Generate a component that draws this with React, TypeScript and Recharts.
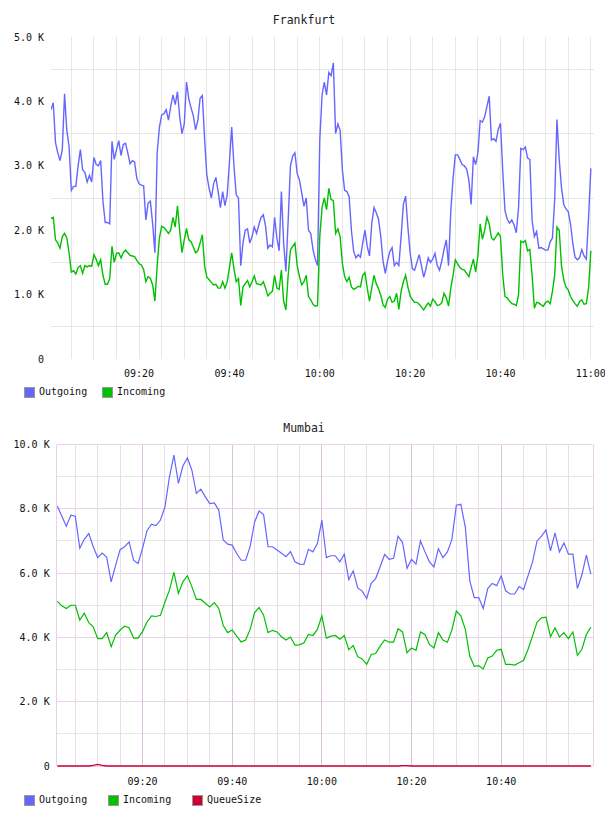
import { LineChart, Line, XAxis, YAxis, ReferenceLine } from "recharts";

const FONT = '"DejaVu Sans Mono", monospace';
const OUT_COLOR = "#6666ff";
const IN_COLOR = "#00c000";
const QUEUE_COLOR = "#cc0033";

// Frankfurt: one sample every 30 s from 09:00:30 (x = minutes after 09:00), values in K
const frankfurtStart = 0.5;
const frankfurtStep = 0.5;
const frankfurtOutgoing = [
  3.87, 3.98, 3.36, 3.2, 3.08, 3.25, 4.12, 3.55, 3.3, 2.62,
  2.68, 2.68, 3.0, 3.25, 2.94, 2.9, 2.75, 2.85, 2.75, 3.13,
  3.02, 3.0, 3.08, 2.45, 2.12, 2.12, 2.1, 3.38, 3.1, 3.25,
  3.39, 3.16, 3.33, 3.35, 3.2, 3.03, 3.08, 3.06, 2.8, 2.72,
  2.7, 2.69, 2.16, 2.42, 2.45, 2.1, 1.65, 3.2, 3.6, 3.79,
  3.81, 3.87, 3.71, 3.92, 4.1, 3.95, 4.15, 3.75, 3.5, 3.65,
  4.3, 4.04, 3.9, 3.78, 3.56, 3.7, 4.05, 4.09, 3.42, 2.85,
  2.65, 2.5, 2.72, 2.82, 2.6, 2.35, 2.6, 2.38, 2.55, 3.06,
  3.6, 3.0, 2.55, 2.5, 1.45, 1.8, 2.0, 2.02, 1.8, 1.9,
  2.05, 1.95, 2.08, 2.2, 2.24, 2.06, 1.72, 1.77, 1.74, 2.2,
  1.88, 1.68, 2.6, 1.8, 1.36, 2.15, 3.0, 3.15, 3.2, 2.88,
  2.78, 2.58, 2.37, 2.5, 2.0, 1.95, 1.7, 1.55, 1.45, 3.4,
  4.1, 4.3, 4.1, 4.45, 4.4, 4.6, 3.5, 3.65, 3.55, 2.94,
  2.62, 2.6, 2.52, 2.0, 1.67, 1.57, 1.62, 1.58, 1.8, 2.0,
  1.75, 1.6, 2.1, 2.35, 2.27, 2.17, 1.9, 1.52, 1.33, 1.52,
  1.67, 1.73, 1.45, 1.5, 1.45, 1.9, 2.4, 2.53, 2.05, 1.65,
  1.4, 1.38, 1.5, 1.62, 1.45, 1.27, 1.4, 1.57, 1.5, 1.55,
  1.64, 1.45, 1.38, 1.52, 1.7, 1.85, 1.45, 2.3, 2.8, 3.17,
  3.17, 3.1, 3.02, 3.0, 2.95, 2.78, 2.4, 3.14, 3.02, 3.2,
  3.7, 3.68, 3.76, 3.92, 4.08, 3.4, 3.42, 3.38, 3.56, 3.66,
  2.92, 2.3, 2.17, 2.11, 2.16, 2.08, 1.96, 2.35, 3.27, 3.25,
  3.29, 3.12, 3.1, 2.15, 1.9, 1.98, 1.72, 1.73, 1.71, 1.69,
  1.69, 1.82, 1.88, 2.48, 3.72, 3.1, 2.66, 2.4, 2.33, 2.29,
  2.1, 1.8, 1.58, 1.54, 1.57, 1.7, 1.6, 1.55, 2.2, 2.96,
];
const frankfurtIncoming = [
  2.18, 2.2, 1.85, 1.8, 1.72, 1.9, 1.95, 1.88, 1.65, 1.35,
  1.37, 1.32, 1.42, 1.45, 1.33, 1.45, 1.43, 1.45, 1.44, 1.62,
  1.55, 1.45, 1.54, 1.3, 1.16, 1.16, 1.25, 1.75, 1.5, 1.64,
  1.65, 1.57, 1.65, 1.69, 1.65, 1.61, 1.6, 1.59, 1.53, 1.48,
  1.46, 1.39, 1.2, 1.28, 1.25, 1.15, 0.9, 1.45, 1.88, 2.06,
  2.04, 2.0, 1.95, 2.0, 2.2, 2.05, 2.38, 1.98, 1.65, 1.85,
  2.03, 1.85, 1.82, 1.74, 1.65, 1.68, 1.8, 1.93, 1.45, 1.27,
  1.23, 1.19, 1.15, 1.16, 1.1, 1.1, 1.2, 1.1, 1.2, 1.42,
  1.65, 1.4, 1.2, 1.25, 0.83, 1.12, 1.17, 1.22, 1.12, 1.2,
  1.29, 1.17, 1.16, 1.15, 1.2, 1.1, 0.98, 1.02, 1.05, 1.3,
  1.1, 1.08, 1.38, 0.9, 0.76, 1.3, 1.69, 1.75, 1.8, 1.45,
  1.28, 1.15, 1.2, 1.3, 0.97, 0.92, 0.85, 0.82, 0.83, 1.9,
  2.35, 2.5, 2.32, 2.65, 2.48, 2.46, 1.95, 2.02, 1.9, 1.48,
  1.28, 1.2, 1.27, 1.12, 1.08, 1.1, 1.13, 1.12, 1.3, 1.34,
  1.1, 0.9, 1.1, 1.3, 1.17, 1.09, 0.99, 0.84, 0.8, 0.93,
  0.97, 0.88, 0.9, 1.02, 0.77, 1.05, 1.2, 1.3, 1.12, 0.98,
  0.92, 0.88, 0.88, 0.85, 0.81, 0.76, 0.82, 0.87, 0.82, 0.93,
  0.89, 0.83, 0.84, 0.87, 1.02, 0.95, 0.82, 1.1, 1.3, 1.54,
  1.48, 1.42, 1.39, 1.38, 1.33, 1.28, 1.42, 1.55, 1.35, 1.6,
  2.1, 1.86, 2.0, 2.2, 2.1, 1.88, 1.85, 1.9, 1.96, 1.9,
  1.3, 0.97, 0.95, 0.9, 0.86, 0.85, 0.83, 1.0, 1.83, 1.81,
  1.84, 1.68, 1.7, 1.3, 0.79, 0.88, 0.87, 0.84, 0.82, 0.88,
  0.9, 0.86, 1.05, 1.3, 2.05, 2.0, 1.45, 1.23, 1.12, 1.07,
  0.97, 0.91, 0.86, 0.82, 0.89, 0.92, 0.85, 0.86, 1.1, 1.68,
];

// Mumbai: one sample per minute from 09:01, values in K
const mumbaiStart = 1;
const mumbaiOutgoing = [
  8.08, 7.77, 7.46, 7.8, 7.77, 6.77, 7.05, 7.23, 6.82, 6.48,
  6.62, 6.49, 5.73, 6.25, 6.73, 6.82, 6.97, 6.4, 6.3, 6.77,
  7.32, 7.52, 7.48, 7.65, 8.06, 8.99, 9.67, 8.79, 9.33, 9.58,
  9.2, 8.48, 8.61, 8.37, 8.16, 8.18, 7.96, 7.03, 6.9, 6.87,
  6.61, 6.4, 6.4, 6.83, 7.59, 7.93, 7.82, 6.82, 6.82, 6.72,
  6.62, 6.51, 6.67, 6.35, 6.28, 6.27, 6.74, 6.66, 6.92, 7.65,
  6.48, 6.54, 6.54, 6.35, 6.59, 5.8, 6.07, 5.54, 5.44, 5.21,
  5.68, 5.83, 6.2, 6.58, 6.43, 6.46, 7.15, 6.95, 6.15, 6.43,
  6.28, 7.0, 6.66, 6.35, 6.19, 6.76, 6.48, 6.66, 7.04, 8.11,
  8.14, 7.43, 5.76, 5.24, 5.24, 4.9, 5.52, 5.68, 5.61, 5.91,
  5.45, 5.35, 5.35, 5.58, 5.49, 5.92, 6.35, 7.0, 7.15, 7.34,
  6.69, 7.25, 6.66, 6.94, 6.59, 6.59, 5.52, 5.94, 6.56, 5.97,
];
const mumbaiIncoming = [
  5.12, 4.98, 4.9, 5.0, 5.0, 4.54, 4.75, 4.46, 4.33, 3.96,
  3.96, 4.15, 3.71, 4.07, 4.23, 4.35, 4.3, 3.98, 3.98, 4.18,
  4.48, 4.67, 4.65, 4.69, 5.1, 5.47, 6.02, 5.37, 5.73, 5.92,
  5.58, 5.18, 5.18, 5.06, 4.95, 5.08, 4.9, 4.37, 4.15, 4.23,
  4.04, 3.86, 3.92, 4.25, 4.77, 4.93, 4.69, 4.15, 4.22, 4.17,
  4.02, 3.92, 4.01, 3.76, 3.77, 3.83, 4.09, 4.06, 4.25, 4.67,
  3.98, 4.04, 4.06, 3.94, 4.06, 3.62, 3.75, 3.4, 3.33, 3.16,
  3.47, 3.5, 3.73, 3.92, 3.85, 3.85, 4.27, 4.17, 3.52, 3.67,
  3.6, 4.17, 4.09, 3.78, 3.67, 4.15, 3.92, 3.85, 4.23, 4.82,
  4.67, 4.25, 3.42, 3.1, 3.12, 3.02, 3.36, 3.42, 3.6, 3.63,
  3.16, 3.16, 3.14, 3.21, 3.29, 3.63, 4.04, 4.48, 4.61, 4.63,
  4.02, 4.3, 4.01, 4.15, 3.96, 4.17, 3.44, 3.63, 4.09, 4.32,
];
const mumbaiQueue = [
  0, 0, 0, 0, 0, 0, 0, 0, 0.02, 0.05,
  0.02, 0, 0, 0, 0, 0, 0, 0, 0, 0,
  0, 0, 0, 0, 0, 0, 0, 0, 0, 0,
  0, 0, 0, 0, 0, 0, 0, 0, 0, 0,
  0, 0, 0, 0, 0, 0, 0, 0, 0, 0,
  0, 0, 0, 0, 0, 0, 0, 0, 0, 0,
  0, 0, 0, 0, 0, 0, 0, 0, 0, 0,
  0, 0, 0, 0, 0, 0, 0, 0.01, 0.01, 0,
  0, 0, 0, 0, 0, 0, 0, 0, 0, 0,
  0, 0, 0, 0, 0, 0, 0, 0, 0, 0,
  0, 0, 0, 0, 0, 0, 0, 0, 0, 0,
  0, 0, 0, 0, 0, 0, 0, 0, 0, 0,
];

// axis ticks and grid positions
const frankfurtTimeTicks = [20, 40, 60, 80, 100, 120];
const mumbaiTimeTicks = [20, 40, 60, 80, 100];
const fiveMinuteMarks = [
  5, 10, 15, 20, 25, 30, 35, 40, 45, 50, 55, 60,
  65, 70, 75, 80, 85, 90, 95, 100, 105, 110, 115, 120,
];
const frankfurtYTicks = [0, 1, 2, 3, 4, 5];
const frankfurtGridY = [0.5, 1.5, 2.5, 3.5, 4.5];
const mumbaiYTicks = [0, 2, 4, 6, 8, 10];
const mumbaiMinorY = [1, 3, 5, 7, 9];

const frankfurtDomain = [0.5, 120.7];
const mumbaiDomain = [0.85, 120.55];

const frankfurtData = frankfurtOutgoing.map((v, i) => ({
  t: frankfurtStart + i * frankfurtStep,
  outgoing: v,
  incoming: frankfurtIncoming[i],
}));

const mumbaiData = mumbaiOutgoing.map((v, i) => ({
  t: mumbaiStart + i,
  outgoing: v,
  incoming: mumbaiIncoming[i],
  queue: mumbaiQueue[i],
}));

const fmtK = (v: number) => (v === 0 ? "0" : `${v.toFixed(1)} K`);
const fmtTime = (t: number) => {
  const h = 9 + Math.floor(t / 60);
  const m = Math.round(t % 60);
  return `${String(h).padStart(2, "0")}:${String(m).padStart(2, "0")}`;
};

function YTick({ x, y, payload }: any) {
  return (
    <text x={x} y={y} dy="0.35em" textAnchor="end" fontFamily={FONT} fontSize={10} fill="#111">
      {fmtK(payload.value)}
    </text>
  );
}

function XTick({ x, y, payload }: any) {
  return (
    <text x={x} y={y} dy="0.71em" textAnchor="middle" fontFamily={FONT} fontSize={10} fill="#111">
      {fmtTime(payload.value)}
    </text>
  );
}

function Title({ text, top }: { text: string; top: number }) {
  return (
    <div
      style={{
        position: "absolute",
        left: 0,
        top,
        width: 608,
        textAlign: "center",
        fontFamily: FONT,
        fontSize: 11.5,
        lineHeight: "14px",
        color: "#222",
      }}
    >
      {text}
    </div>
  );
}

function LegendRow({ items, top }: { items: { name: string; color: string; x: number }[]; top: number }) {
  return (
    <>
      {items.map((it) => (
        <div key={it.name}>
          <div
            style={{
              position: "absolute",
              left: it.x,
              top,
              width: 9,
              height: 9,
              background: it.color,
              border: "1px solid #999",
            }}
          />
          <div
            style={{
              position: "absolute",
              left: it.x + 15,
              top: top - 1,
              fontFamily: FONT,
              fontSize: 10,
              lineHeight: "12px",
              color: "#111",
              whiteSpace: "nowrap",
            }}
          >
            {it.name}
          </div>
        </div>
      ))}
    </>
  );
}

export default function App() {
  const grid = "#e6e6e6";
  const pink = "#e8d0e8";
  const pinkMajor = "#dcc2dc";
  const minorV = "#e6e0e6";

  return (
    <div style={{ position: "absolute", left: 0, top: 0, width: 608, height: 816, background: "#fff" }}>
      <Title text="Frankfurt" top={13} />
      <div style={{ position: "absolute", left: 0, top: 0, width: 605, height: 400, overflow: "hidden" }}>
        <LineChart width={605} height={400} data={frankfurtData} margin={{ top: 37, right: 11, bottom: 0, left: 0 }}>
          <XAxis
            dataKey="t"
            type="number"
            domain={frankfurtDomain}
            ticks={frankfurtTimeTicks}
            interval={0}
            allowDataOverflow
            axisLine={false}
            tickLine={false}
            tickSize={0}
            tickMargin={11}
            height={41}
            tick={<XTick />}
          />
          <YAxis
            type="number"
            domain={[0, 5]}
            ticks={frankfurtYTicks}
            interval={0}
            axisLine={false}
            tickLine={false}
            tickSize={0}
            tickMargin={7}
            width={51}
            tick={<YTick />}
          />
          {frankfurtGridY.map((v) => (
            <ReferenceLine key={`h${v}`} y={v} stroke={grid} strokeWidth={1} shapeRendering="crispEdges" />
          ))}
          {fiveMinuteMarks.map((m) => (
            <ReferenceLine key={`v${m}`} x={m} stroke={grid} strokeWidth={1} shapeRendering="crispEdges" />
          ))}
          <Line type="linear" dataKey="outgoing" name="Outgoing" stroke={OUT_COLOR} strokeWidth={1.4} dot={false} isAnimationActive={false} />
          <Line type="linear" dataKey="incoming" name="Incoming" stroke={IN_COLOR} strokeWidth={1.4} dot={false} isAnimationActive={false} />
        </LineChart>
      </div>
      <LegendRow
        top={387}
        items={[
          { name: "Outgoing", color: OUT_COLOR, x: 24 },
          { name: "Incoming", color: IN_COLOR, x: 102 },
        ]}
      />

      <Title text="Mumbai" top={421} />
      <div style={{ position: "absolute", left: 0, top: 400, width: 608, height: 416 }}>
        <LineChart width={608} height={416} data={mumbaiData} margin={{ top: 44.5, right: 14.7, bottom: 0, left: 0 }}>
          <XAxis
            dataKey="t"
            type="number"
            domain={mumbaiDomain}
            ticks={mumbaiTimeTicks}
            interval={0}
            allowDataOverflow
            axisLine={false}
            tickLine={false}
            tickSize={0}
            tickMargin={12}
            height={50}
            tick={<XTick />}
          />
          <YAxis
            type="number"
            domain={[0, 10]}
            ticks={mumbaiYTicks}
            interval={0}
            axisLine={false}
            tickLine={false}
            tickSize={0}
            tickMargin={7}
            width={56.7}
            tick={<YTick />}
          />
          {mumbaiMinorY.map((v) => (
            <ReferenceLine key={`hm${v}`} y={v} stroke={grid} strokeWidth={1} shapeRendering="crispEdges" />
          ))}
          {mumbaiYTicks.map((v) => (
            <ReferenceLine key={`hM${v}`} y={v} stroke={pink} strokeWidth={1} shapeRendering="crispEdges" />
          ))}
          {fiveMinuteMarks
            .filter((m) => m < 120)
            .map((m) => (
              <ReferenceLine
                key={`vm${m}`}
                x={m}
                stroke={m % 20 === 0 ? pinkMajor : minorV}
                strokeWidth={1}
                shapeRendering="crispEdges"
              />
            ))}
          <ReferenceLine x={mumbaiDomain[0]} stroke={pink} strokeWidth={1} shapeRendering="crispEdges" />
          <ReferenceLine x={mumbaiDomain[1]} stroke={pink} strokeWidth={1} shapeRendering="crispEdges" />
          <Line type="linear" dataKey="outgoing" name="Outgoing" stroke={OUT_COLOR} strokeWidth={1.2} dot={false} isAnimationActive={false} />
          <Line type="linear" dataKey="incoming" name="Incoming" stroke={IN_COLOR} strokeWidth={1.2} dot={false} isAnimationActive={false} />
          <Line type="linear" dataKey="queue" name="QueueSize" stroke={QUEUE_COLOR} strokeWidth={1.3} dot={false} isAnimationActive={false} />
        </LineChart>
      </div>
      <LegendRow
        top={795}
        items={[
          { name: "Outgoing", color: OUT_COLOR, x: 24 },
          { name: "Incoming", color: IN_COLOR, x: 108 },
          { name: "QueueSize", color: QUEUE_COLOR, x: 192 },
        ]}
      />
    </div>
  );
}
